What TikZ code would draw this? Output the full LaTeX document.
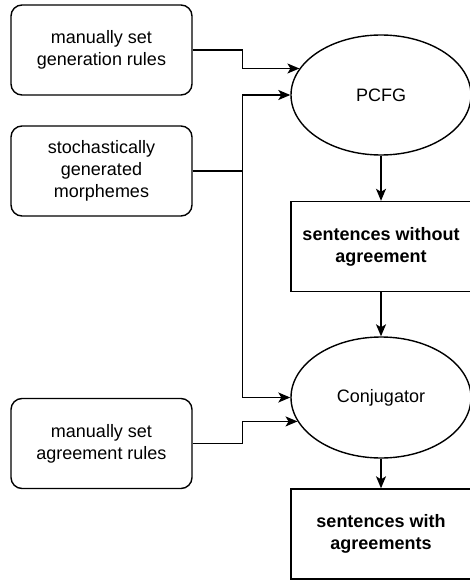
\documentclass[tikz,border=0pt]{standalone}
\usepackage{fontspec}
\setmainfont{Liberation Sans}
\usetikzlibrary{shapes.geometric,arrows.meta}
\begin{document}
\begin{tikzpicture}[x=1pt,y=-1pt,
  every node/.style={font=\fontsize{18}{22}\selectfont, align=center, inner sep=0pt},
  srcbox/.style={draw, line width=1.4pt, rounded corners=11pt, minimum width=181pt, minimum height=90pt},
  procell/.style={draw, line width=1.4pt, ellipse, minimum width=180pt, minimum height=120pt},
  outbox/.style={draw, line width=1.4pt, rectangle, minimum width=180pt, minimum height=90pt, font=\fontsize{18}{22}\selectfont\bfseries},
  conn/.style={line width=1.4pt},
  arr/.style={conn, -{Stealth[length=12pt,width=10pt,inset=3pt]}}]
\useasboundingbox[fill=white] (0,0) rectangle (470,580);
\node[srcbox] (b1) at (101.5,50) {manually set\\generation rules};
\node[srcbox] (b2) at (101.5,171) {stochastically\\generated\\morphemes};
\node[srcbox] (b3) at (101.5,443.5) {manually set\\agreement rules};
\node[procell] (pcfg) at (381,95) {PCFG};
\node[outbox] (s1) at (381,246.5) {sentences without\\agreement};
\node[procell, minimum height=121pt] (conj) at (381,397.5) {Conjugator};
\node[outbox] (s2) at (381,534) {sentences with\\agreements};
\draw[arr] (b1.east) -- ++(50,0) |- (pcfg.162);
\draw[conn] (b2.east) -- ++(50,0) coordinate (split);
\draw[arr] (split) |- (pcfg.west);
\draw[arr] (split) |- (conj.west);
\draw[arr] (b3.east) -- ++(50,0) |- (conj.196);
\draw[arr] (pcfg.south) -- (s1.north);
\draw[arr] (s1.south) -- (conj.north);
\draw[arr] (conj.south) -- (s2.north);
\end{tikzpicture}
\end{document}
